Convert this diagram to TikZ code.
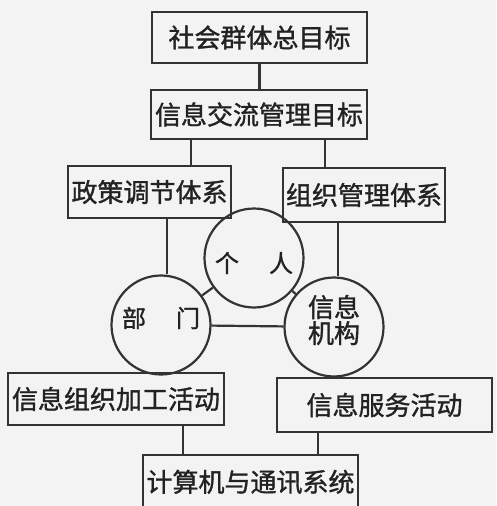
\documentclass[tikz,border=0pt]{standalone}
\usepackage{fontspec}
\newfontfamily\cjk[FakeBold=1.2]{Noto Sans CJK SC}
\definecolor{linec}{HTML}{333333}
\definecolor{textc}{HTML}{222222}
\definecolor{bgc}{HTML}{F3F3F3}
\begin{document}
\begin{tikzpicture}[x=1pt,y=-1pt,
  box/.style={draw=linec, line width=2.2pt, inner sep=0pt, font=\cjk\fontsize{26}{26}\selectfont, text=textc},
  circ/.style={draw=linec, line width=2.2pt, circle, minimum size=99pt, inner sep=0pt},
  lbl/.style={inner sep=0pt, text=textc, align=center},
  link/.style={draw=linec, line width=2.2pt}]
\fill[bgc] (0,0) rectangle (496,506);
\useasboundingbox (0,0) rectangle (496,506);
\clip (0,0) rectangle (496,506);
% boxes
\node[box, minimum width=215pt, minimum height=51pt] (b1) at (259.5,37.5) {社会群体总目标};
\node[box, minimum width=216pt, minimum height=49pt] (b2) at (259,114.5) {信息交流管理目标};
\node[box, minimum width=163pt, minimum height=52pt] (b3) at (149.5,192) {政策调节体系};
\node[box, minimum width=162pt, minimum height=54pt] (b4) at (364,195) {组织管理体系};
\node[box, minimum width=216pt, minimum height=52pt] (b5) at (116,399) {信息组织加工活动};
\node[box, minimum width=215pt, minimum height=54pt] (b6) at (384.5,405) {信息服务活动};
\node[box, minimum width=215pt, minimum height=54pt] (b7) at (250.5,482) {计算机与通讯系统};
% circles
\node[circ] (gr) at (254,258) {};
\node[circ] (bm) at (161,325) {};
\node[circ] (xj) at (334,327) {};
\node[lbl, font=\cjk\fontsize{24}{24}\selectfont] (grt) at ([yshift=-5pt]gr.center) {个\hspace{30pt}人};
\node[lbl, font=\cjk\fontsize{24}{24}\selectfont] (bmt) at ([yshift=7pt]bm.center) {部\hspace{30pt}门};
\node[lbl, font=\cjk\fontsize{26}{26}\selectfont] (xjt) at ([yshift=7pt]xj.center) {信息\\机构};
% connectors
\coordinate (kA) at (191,0);
\coordinate (kB) at (325,0);
\coordinate (kC) at (167,0);
\coordinate (kD) at (338,0);
\coordinate (kE) at (183,0);
\coordinate (kF) at (318,0);
\draw[link] (b1.south) -- (b1.south |- b2.north);
\draw[link] (b2.south -| kA) -- (b3.north -| kA);
\draw[link] (b2.south -| kB) -- (b4.north -| kB);
\draw[link] (b3.south -| kC) -- (bm.north -| kC);
\draw[link] (b4.south -| kD) -- (xj.north -| kD);
\draw[link] (bm) -- (xj);
\draw[link] (gr) -- (bm);
\draw[link] (gr) -- (xj);
\draw[link] (b5.south -| kE) -- (b7.north -| kE);
\draw[link] (b6.south -| kF) -- (b7.north -| kF);
\end{tikzpicture}
\end{document}
